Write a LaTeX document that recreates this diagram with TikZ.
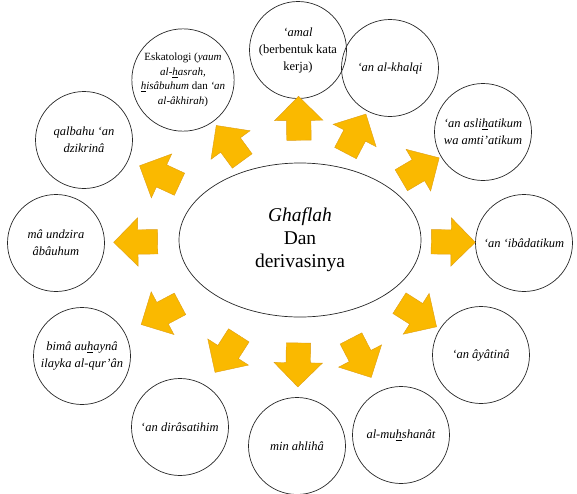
\documentclass[tikz,border=0pt]{standalone}
\usepackage{fontspec}
\setmainfont{Liberation Serif}
\usetikzlibrary{shapes.geometric,shapes.arrows}

\definecolor{arrowfill}{RGB}{250,185,0}
\definecolor{arrowedge}{RGB}{222,158,20}

\tikzset{
    topic/.style={circle, draw=black!85, line width=0.7pt, minimum size=97pt,
        inner sep=1pt, align=center, font=\fontsize{12.5}{17}\selectfont},
    flowarrow/.style={single arrow, fill=arrowfill, draw=arrowedge, line width=0.4pt,
        minimum height=44pt, inner sep=12pt, single arrow head extend=12pt,
        sloped, allow upside down}
}

\begin{document}
\begin{tikzpicture}[x=1pt, y=-1pt]
    \useasboundingbox (0,0) rectangle (577,493);

    % Central ellipse
    \node[ellipse, draw=black!85, line width=0.7pt, minimum width=242pt, minimum height=154pt,
        align=center, font=\fontsize{19.5}{23}\selectfont] (hub) at (300,240)
        {\textit{Ghaflah}\\Dan\\derivasinya};

    % Surrounding circles
    \node[topic] (amal) at (298,50) {\textit{‘amal}\\(berbentuk kata\\kerja)};
    \node[topic] (khalqi) at (390,68) {\textit{‘an al-khalqi}};
    \node[topic] (aslihat) at (483,132) {\textit{‘an asli\underline{h}atikum}\\\textit{wa amti’atikum}};
    \node[topic] (ibadat) at (524,243) {\textit{‘an ‘ibâdatikum}};
    \node[topic] (ayatina) at (481,355) {\textit{‘an âyâtinâ}};
    \node[topic] (muhshanat) at (401,435) {\textit{al-mu\underline{h}shanât}};
    \node[topic] (ahliha) at (297,446) {\textit{min ahlihâ}};
    \node[topic] (dirasat) at (180,427) {‘\textit{an dirâsatihim}};
    \node[topic] (auhayna) at (82,356) {\textit{bimâ au\underline{h}aynâ}\\\textit{ilayka al-qur’ân}};
    \node[topic] (undzira) at (56,243) {\textit{mâ undzira}\\\textit{âbâuhum}};
    \node[topic] (qalbahu) at (84,140) {\textit{qalbahu ‘an}\\\textit{dzikrinâ}};
    \node[topic, minimum size=102pt, font=\fontsize{11}{14.5}\selectfont] (eskato) at (183,80)
        {Eskatologi (\textit{yaum}\\\textit{al-\underline{h}asrah,}\\\textit{\underline{h}isâbuhum} dan \textit{‘an}\\\textit{al-âkhirah})};

    % Arrows
    \foreach \t/\p in {amal/0.6,khalqi/0.5,aslihat/0.5,ibadat/0.48,ayatina/0.5,muhshanat/0.5,
            ahliha/0.52,dirasat/0.5,auhayna/0.5,undzira/0.5,qalbahu/0.5,eskato/0.45}
        \path (hub) -- node[flowarrow, pos=\p] {} (\t);
\end{tikzpicture}
\end{document}
